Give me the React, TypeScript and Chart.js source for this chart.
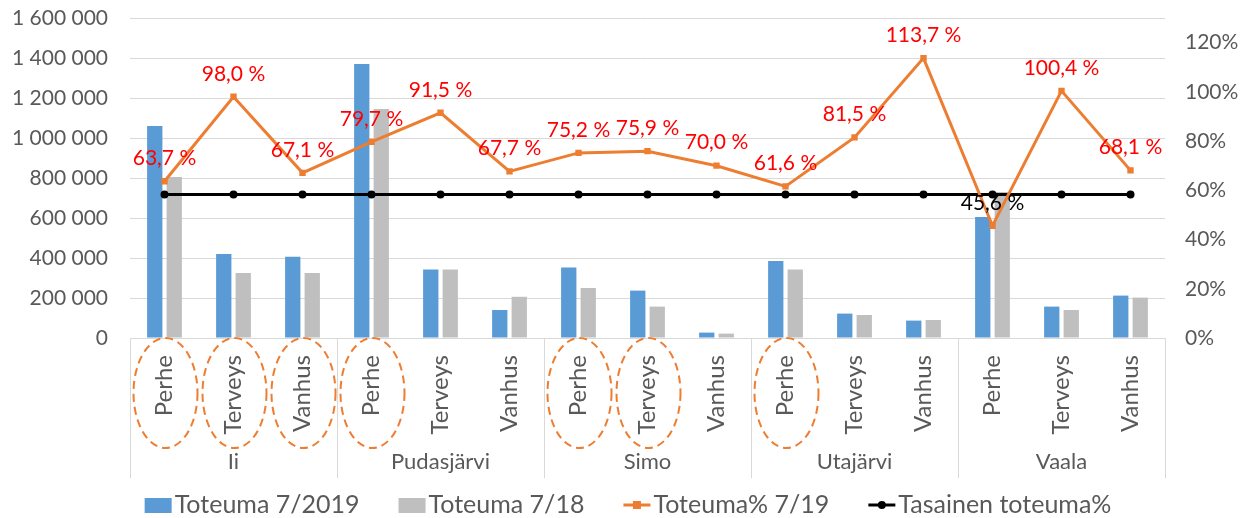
import React, { useEffect, useRef } from 'react';
import { Chart, registerables } from 'chart.js';

Chart.register(...registerables);

const categories = [
  'Perhe', 'Terveys', 'Vanhus',
  'Perhe', 'Terveys', 'Vanhus',
  'Perhe', 'Terveys', 'Vanhus',
  'Perhe', 'Terveys', 'Vanhus',
  'Perhe', 'Terveys', 'Vanhus',
];
const groups = ['Ii', 'Pudasjärvi', 'Simo', 'Utajärvi', 'Vaala'];
const toteuma2019 = [1060000, 420000, 406000, 1370000, 343000, 140000, 352000, 237000, 27000, 385000, 122000, 87000, 605000, 157000, 212000];
const toteuma18 = [805000, 325000, 325000, 1145000, 343000, 206000, 250000, 157000, 22000, 343000, 115000, 90000, 730000, 140000, 202000];
const toteumaPct = [0.637, 0.98, 0.671, 0.797, 0.915, 0.677, 0.752, 0.759, 0.7, 0.616, 0.815, 1.137, 0.456, 1.004, 0.681];
const tasainen = [0.583, 0.583, 0.583, 0.583, 0.583, 0.583, 0.583, 0.583, 0.583, 0.583, 0.583, 0.583, 0.583, 0.583, 0.583];
const circled = [true, true, true, true, false, false, true, true, false, true, false, false, false, false, false];
const blackLabelIndex = [12];
const seriesNames = ['Toteuma 7/2019', 'Toteuma 7/18', 'Toteuma% 7/19', 'Tasainen toteuma%'];

const BLUE = '#5B9BD5';
const GRAY = '#BFBFBF';
const ORANGE = '#ED7D31';
const FONT = 'Lato';
const TEXT = '#595959';
const LINE = '#D9D9D9';

const fmtThousands = (v: number) => String(v).replace(/\B(?=(\d{3})+(?!\d))/g, ' ');
const fmtPctLabel = (v: number) => (v * 100).toFixed(1).replace('.', ',') + ' %';

const decor = {
  id: 'decor',
  afterDatasetsDraw(chart: any) {
    const ctx = chart.ctx;
    const meta = chart.getDatasetMeta(0);
    ctx.save();
    ctx.font = `21px ${FONT}`;
    ctx.textAlign = 'center';
    ctx.textBaseline = 'middle';
    meta.data.forEach((pt: any, i: number) => {
      ctx.fillStyle = blackLabelIndex.includes(i) ? '#000000' : '#FF0000';
      ctx.fillText(fmtPctLabel(toteumaPct[i]), pt.x, pt.y - 23);
    });
    ctx.restore();
  },
  afterDraw(chart: any) {
    const ctx = chart.ctx;
    const x = chart.scales.x;
    const area = chart.chartArea;
    const n = categories.length;
    const w = (x.right - x.left) / n;
    const bottom = area.bottom;
    ctx.save();
    // separators
    ctx.strokeStyle = LINE;
    ctx.lineWidth = 1;
    for (let g = 0; g <= groups.length; g++) {
      const px = Math.round(x.left + g * 3 * w) + 0.5;
      ctx.beginPath();
      ctx.moveTo(px, bottom);
      ctx.lineTo(px, bottom + 140);
      ctx.stroke();
    }
    // category labels
    ctx.fillStyle = TEXT;
    ctx.font = `24px ${FONT}`;
    categories.forEach((c, i) => {
      const cx = x.getPixelForValue(i);
      ctx.save();
      ctx.translate(cx, bottom + 17);
      ctx.rotate(-Math.PI / 2);
      ctx.textAlign = 'right';
      ctx.textBaseline = 'middle';
      ctx.fillText(c, 0, 0);
      ctx.restore();
    });
    // group labels
    ctx.font = `22px ${FONT}`;
    ctx.textAlign = 'center';
    ctx.textBaseline = 'middle';
    groups.forEach((g, gi) => {
      const cx = x.left + (gi * 3 + 1.5) * w;
      ctx.fillText(g, cx, bottom + 124);
    });
    // ellipses
    ctx.strokeStyle = ORANGE;
    ctx.lineWidth = 2;
    ctx.setLineDash([8, 5]);
    circled.forEach((on, i) => {
      if (!on) return;
      const cx = x.getPixelForValue(i) + 1;
      ctx.beginPath();
      ctx.ellipse(cx, bottom + 55, 32, 55, 0, 0, Math.PI * 2);
      ctx.stroke();
    });
    ctx.setLineDash([]);
    // legend
    ctx.font = `25px ${FONT}`;
    ctx.textAlign = 'left';
    ctx.textBaseline = 'middle';
    const ly = 505;
    const markW = 27;
    const gapText = 3;
    const gapItem = 39;
    const widths = seriesNames.map((s) => markW + gapText + ctx.measureText(s).width);
    const total = widths.reduce((a, b) => a + b, 0) + gapItem * (seriesNames.length - 1);
    let lx = 628 - total / 2;
    seriesNames.forEach((s, i) => {
      if (i === 0 || i === 1) {
        ctx.fillStyle = i === 0 ? BLUE : GRAY;
        ctx.fillRect(lx, ly - 7, markW, 15);
      } else {
        const col = i === 2 ? ORANGE : '#000000';
        ctx.strokeStyle = col;
        ctx.lineWidth = 3;
        ctx.beginPath();
        ctx.moveTo(lx, ly);
        ctx.lineTo(lx + markW, ly);
        ctx.stroke();
        ctx.fillStyle = col;
        if (i === 2) {
          ctx.fillRect(lx + markW / 2 - 4, ly - 4, 8, 8);
        } else {
          ctx.beginPath();
          ctx.arc(lx + markW / 2, ly, 4, 0, Math.PI * 2);
          ctx.fill();
        }
      }
      ctx.fillStyle = TEXT;
      ctx.fillText(s, lx + markW + gapText, ly);
      lx += widths[i] + gapItem;
    });
    ctx.restore();
  },
};

const fitY = (width: number) => (s: any) => {
  s.width = width;
  s.paddingTop = 0;
  s.paddingBottom = 0;
};

export default function App() {
  const ref = useRef<HTMLCanvasElement | null>(null);
  useEffect(() => {
    document.body.style.margin = '0';
    const canvas = ref.current;
    if (!canvas) return;
    const chart = new Chart(canvas, {
      type: 'bar',
      data: {
        labels: categories,
        datasets: [
          {
            type: 'line',
            label: seriesNames[2],
            data: toteumaPct,
            yAxisID: 'y1',
            borderColor: ORANGE,
            backgroundColor: ORANGE,
            borderWidth: 3,
            pointStyle: 'rect',
            pointRadius: 4.5,
            pointBorderWidth: 0,
            pointBackgroundColor: ORANGE,
            order: 0,
          } as any,
          {
            type: 'line',
            label: seriesNames[3],
            data: tasainen,
            yAxisID: 'y1',
            borderColor: '#000000',
            backgroundColor: '#000000',
            borderWidth: 3,
            pointRadius: 4,
            pointBorderWidth: 0,
            pointBackgroundColor: '#000000',
            order: 1,
          } as any,
          {
            label: seriesNames[0],
            data: toteuma2019,
            backgroundColor: BLUE,
            yAxisID: 'y',
            categoryPercentage: 0.565,
            barPercentage: 0.785,
            order: 2,
          },
          {
            label: seriesNames[1],
            data: toteuma18,
            backgroundColor: GRAY,
            yAxisID: 'y',
            categoryPercentage: 0.565,
            barPercentage: 0.785,
            order: 3,
          },
        ],
      },
      options: {
        responsive: false,
        animation: false,
        layout: { padding: { top: 18, bottom: 180, left: 0, right: 0 } },
        plugins: {
          legend: { display: false },
          tooltip: { enabled: false },
        },
        scales: {
          x: { display: false },
          y: {
            position: 'left',
            min: 0,
            max: 1600000,
            border: { display: false },
            grid: { color: LINE, lineWidth: 1, drawTicks: false },
            ticks: {
              stepSize: 200000,
              padding: 22,
              color: TEXT,
              font: { family: FONT, size: 21 },
              callback: (v: any) => fmtThousands(Number(v)),
            },
            afterFit: fitY(130),
          },
          y1: {
            position: 'right',
            min: 0,
            max: 1.3,
            border: { display: false },
            grid: { display: false, drawTicks: false },
            ticks: {
              stepSize: 0.2,
              padding: 20,
              color: TEXT,
              font: { family: FONT, size: 21 },
              callback: (v: any) => (Number(v) > 1.21 ? '' : Math.round(Number(v) * 100) + '%'),
            },
            afterFit: fitY(88),
          },
        },
      },
      plugins: [decor],
    });
    return () => chart.destroy();
  }, []);
  return (
    <div style={{ width: 1253, height: 518 }}>
      <canvas ref={ref} width={1253} height={518} />
    </div>
  );
}
